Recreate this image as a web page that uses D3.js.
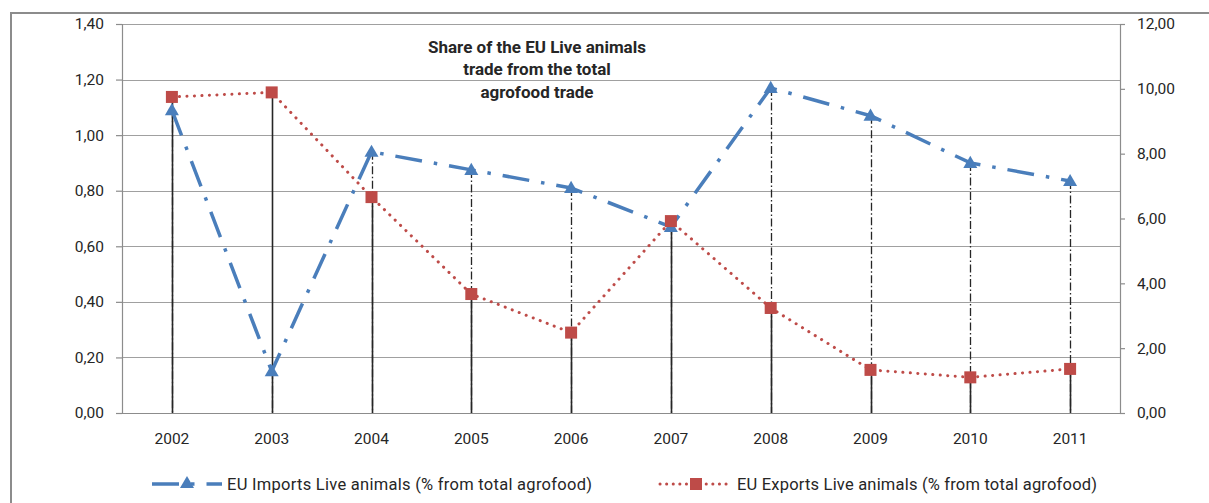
<!DOCTYPE html>
<html>
<head>
<meta charset="utf-8">
<script src="https://cdn.jsdelivr.net/npm/d3@7"></script>
<style>
  html, body { margin: 0; padding: 0; background: #fff; }
  svg { display: block; }
  text { font-family: Roboto, "Liberation Sans", sans-serif; fill: #262626; }
</style>
</head>
<body>
<svg id="chart" width="1209" height="503"></svg>
<script>
// ---- data ----
const years = ["2002","2003","2004","2005","2006","2007","2008","2009","2010","2011"];
const importsShare = [1.09, 0.15, 0.94, 0.875, 0.81, 0.67, 1.17, 1.07, 0.90, 0.835];
const exportsShare = [9.75, 9.89, 6.66, 3.67, 2.48, 5.92, 3.24, 1.33, 1.10, 1.36];
const leftTicks = [0, 0.2, 0.4, 0.6, 0.8, 1.0, 1.2, 1.4];
const rightTicks = [0, 2, 4, 6, 8, 10, 12];
const titleLines = ["Share of the EU Live animals", "trade from the total", "agrofood trade"];
const importsLabel = "EU Imports Live animals (% from total agrofood)";
const exportsLabel = "EU Exports Live animals (% from total agrofood)";

const blue = "#4a7ebb", red = "#be4b48";
const svg = d3.select("#chart");
const W = 1209, H = 503;
const plot = { left: 122, right: 1120, top: 24, bottom: 413 };

const fmt = d3.formatLocale({ decimal: ",", thousands: ".", grouping: [3], currency: ["", ""] }).format(".2f");

const x = d3.scaleBand().domain(years).range([plot.left, plot.right]);
const cx = d => x(d) + x.bandwidth() / 2;
const yL = d3.scaleLinear().domain([0, 1.4]).range([plot.bottom, plot.top]);
const yR = d3.scaleLinear().domain([0, 12]).range([plot.bottom, plot.top]);

// outer frame
svg.append("path").attr("d", `M11,${H} V13 H${W}`).attr("fill", "none")
  .attr("stroke", "#8c8c8c").attr("stroke-width", 2);

// gridlines
svg.append("g").selectAll("line").data(leftTicks).join("line")
  .attr("x1", plot.left).attr("x2", plot.right)
  .attr("y1", d => Math.round(yL(d)) + 0.5).attr("y2", d => Math.round(yL(d)) + 0.5)
  .attr("stroke", "#a0a0a0").attr("stroke-width", 1.2);

// left axis
const gL = svg.append("g").attr("transform", `translate(${plot.left},0)`)
  .call(d3.axisLeft(yL).tickValues(leftTicks).tickFormat(fmt).tickSize(6).tickPadding(12));
// right axis
const gR = svg.append("g").attr("transform", `translate(${plot.right},0)`)
  .call(d3.axisRight(yR).tickValues(rightTicks).tickFormat(fmt).tickSize(5).tickPadding(12));
// bottom axis
const gB = svg.append("g").attr("transform", `translate(0,${plot.bottom})`)
  .call(d3.axisBottom(x).tickSize(0).tickPadding(20));
[gL, gR, gB].forEach(g => {
  g.selectAll(".domain").attr("stroke", "#8c8c8c").attr("stroke-width", 1.2);
  g.selectAll(".tick line").attr("stroke", "#8c8c8c").attr("stroke-width", 1.2);
  g.selectAll("text").attr("font-family", "Roboto, sans-serif").attr("font-size", 15.5).attr("fill", "#262626");
});
gB.select(".domain").attr("d", `M${plot.left - 6},0.5H${plot.right}`);

// drop lines: imports (dash-dot) then exports (solid)
svg.append("g").selectAll("line").data(years).join("line")
  .attr("x1", d => Math.round(cx(d)) + 0.5).attr("x2", d => Math.round(cx(d)) + 0.5)
  .attr("y1", (d, i) => yL(importsShare[i])).attr("y2", plot.bottom)
  .attr("stroke", "#262626").attr("stroke-width", 1.3).attr("stroke-dasharray", "8,2.5,1.5,2.5");
svg.append("g").selectAll("line").data(years).join("line")
  .attr("x1", d => Math.round(cx(d)) + 0.5).attr("x2", d => Math.round(cx(d)) + 0.5)
  .attr("y1", (d, i) => yR(exportsShare[i])).attr("y2", plot.bottom)
  .attr("stroke", "#262626").attr("stroke-width", 1.6);

// series lines
const lineL = d3.line().x((d, i) => cx(years[i])).y(d => yL(d));
const lineR = d3.line().x((d, i) => cx(years[i])).y(d => yR(d));
svg.append("path").datum(importsShare).attr("d", lineL).attr("fill", "none")
  .attr("stroke", blue).attr("stroke-width", 3.5).attr("stroke-dasharray", "27,12,3.5,12");
svg.append("path").datum(exportsShare).attr("d", lineR).attr("fill", "none")
  .attr("stroke", red).attr("stroke-width", 3).attr("stroke-linecap", "round").attr("stroke-dasharray", "0.1,7.4");

// markers
const tri = d3.symbol().type(d3.symbolTriangle).size(85);
svg.append("g").selectAll("path").data(importsShare).join("path")
  .attr("d", tri).attr("transform", (d, i) => `translate(${cx(years[i])},${yL(d) + 1})`)
  .attr("fill", blue);
svg.append("g").selectAll("rect").data(exportsShare).join("rect")
  .attr("x", (d, i) => cx(years[i]) - 6).attr("y", d => yR(d) - 6)
  .attr("width", 12).attr("height", 12).attr("fill", red);

// title
svg.append("g").selectAll("text").data(titleLines).join("text")
  .attr("x", 537).attr("y", (d, i) => 47 + i * 22.5).attr("dy", "0.35em")
  .attr("text-anchor", "middle").attr("font-weight", "bold").attr("font-size", 17)
  .attr("fill", "#1a1a1a").text(d => d);

// legend
const legY = 484;
const lg = svg.append("g");
lg.append("line").attr("x1", 152).attr("x2", 222).attr("y1", legY).attr("y2", legY)
  .attr("stroke", blue).attr("stroke-width", 3.5).attr("stroke-dasharray", "27,12,3.5,12");
lg.append("path").attr("d", tri).attr("transform", `translate(187,${legY})`).attr("fill", blue);
lg.append("text").attr("x", 227).attr("y", legY).attr("dy", "0.35em")
  .attr("font-size", 16.5).attr("textLength", 365).attr("lengthAdjust", "spacing").text(importsLabel);
lg.append("line").attr("x1", 660).attr("x2", 731).attr("y1", legY).attr("y2", legY)
  .attr("stroke", red).attr("stroke-width", 3).attr("stroke-linecap", "round").attr("stroke-dasharray", "0.1,6.5");
lg.append("rect").attr("x", 690).attr("y", legY - 6).attr("width", 12).attr("height", 12).attr("fill", red);
lg.append("text").attr("x", 737).attr("y", legY).attr("dy", "0.35em")
  .attr("font-size", 16.5).attr("textLength", 360).attr("lengthAdjust", "spacing").text(exportsLabel);
</script>
</body>
</html>
